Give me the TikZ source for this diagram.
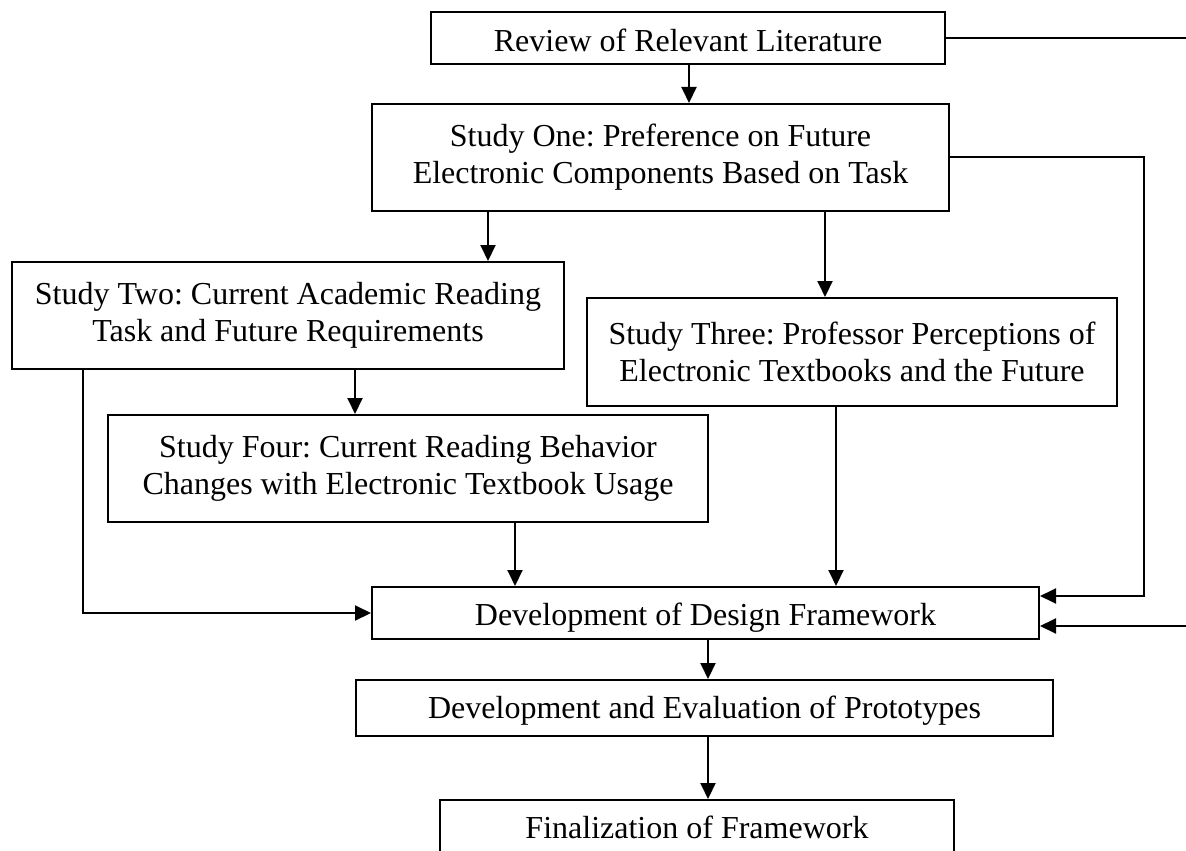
\documentclass[tikz,border=0pt]{standalone}
\usepackage{fontspec}
\setmainfont{Liberation Serif}
\usetikzlibrary{arrows.meta,calc}
\begin{document}
\frenchspacing
\begin{tikzpicture}[x=0.5pt,y=-0.5pt,
  box/.style={draw,line width=1pt,inner sep=0pt,align=center,font=\fontsize{16}{18.5}\selectfont},
  arr/.style={line width=1pt,-{Triangle[length=8pt,width=7.5pt]}},
  ln/.style={line width=1pt}]
\useasboundingbox (0,0) rectangle (1186,850);
\clip (0,0) rectangle (1186,850);
% boxes
\node[box,minimum width=257pt,minimum height=26pt,text height=14pt,text depth=0pt] (rev) at (688,38) {Review of Relevant Literature};
\node[box,minimum width=288.5pt,minimum height=53.5pt] (one) at (660.5,157.5) {Study One: Preference on Future\\Electronic Components Based on Task};
\node[box,minimum width=276pt,minimum height=53.5pt] (two) at (288,315.5) {Study Two: Current Academic Reading\\Task and Future Requirements};
\node[box,minimum width=265pt,minimum height=54pt] (three) at (852,352) {Study Three: Professor Perceptions of\\Electronic Textbooks and the Future};
\node[box,minimum width=300pt,minimum height=53.5pt] (four) at (408,468.5) {Study Four: Current Reading Behavior\\Changes with Electronic Textbook Usage};
\node[box,minimum width=333.5pt,minimum height=26pt,text height=15.5pt,text depth=3.5pt] (design) at (705.5,613) {Development of Design Framework};
\node[box,minimum width=348.5pt,minimum height=28pt,text height=13.5pt,text depth=3.5pt] (proto) at (704.5,708) {Development and Evaluation of Prototypes};
\node[box,minimum width=257pt,minimum height=28pt,text height=12pt,text depth=2pt] (final) at (697,828) {Finalization of Framework};
% helper coordinates
\coordinate (c83) at (83,0);
\coordinate (c355) at (355,0);
\coordinate (c488) at (488,0);
\coordinate (c515) at (515,0);
\coordinate (c689) at (689,0);
\coordinate (c708) at (708,0);
\coordinate (c825) at (825,0);
\coordinate (c836) at (836,0);
\coordinate (rr) at (1144,596);
\coordinate (outA) at (1190,38);
\coordinate (outB) at (1190,626);
% connectors
\draw[arr] (c689 |- rev.south) -- (c689 |- one.north);
\draw[ln] (rev.east) -- (outA);
\draw[arr] (one.east) -| (rr) -- (rr -| design.east);
\draw[arr] (outB) -- (outB -| design.east);
\draw[arr] (c488 |- one.south) -- (c488 |- two.north);
\draw[arr] (c825 |- one.south) -- (c825 |- three.north);
\draw[arr] (c355 |- two.south) -- (c355 |- four.north);
\draw[arr] (c83 |- two.south) |- (design.west);
\draw[arr] (c515 |- four.south) -- (c515 |- design.north);
\draw[arr] (c836 |- three.south) -- (c836 |- design.north);
\draw[arr] (c708 |- design.south) -- (c708 |- proto.north);
\draw[arr] (c708 |- proto.south) -- (c708 |- final.north);
\end{tikzpicture}
\end{document}
